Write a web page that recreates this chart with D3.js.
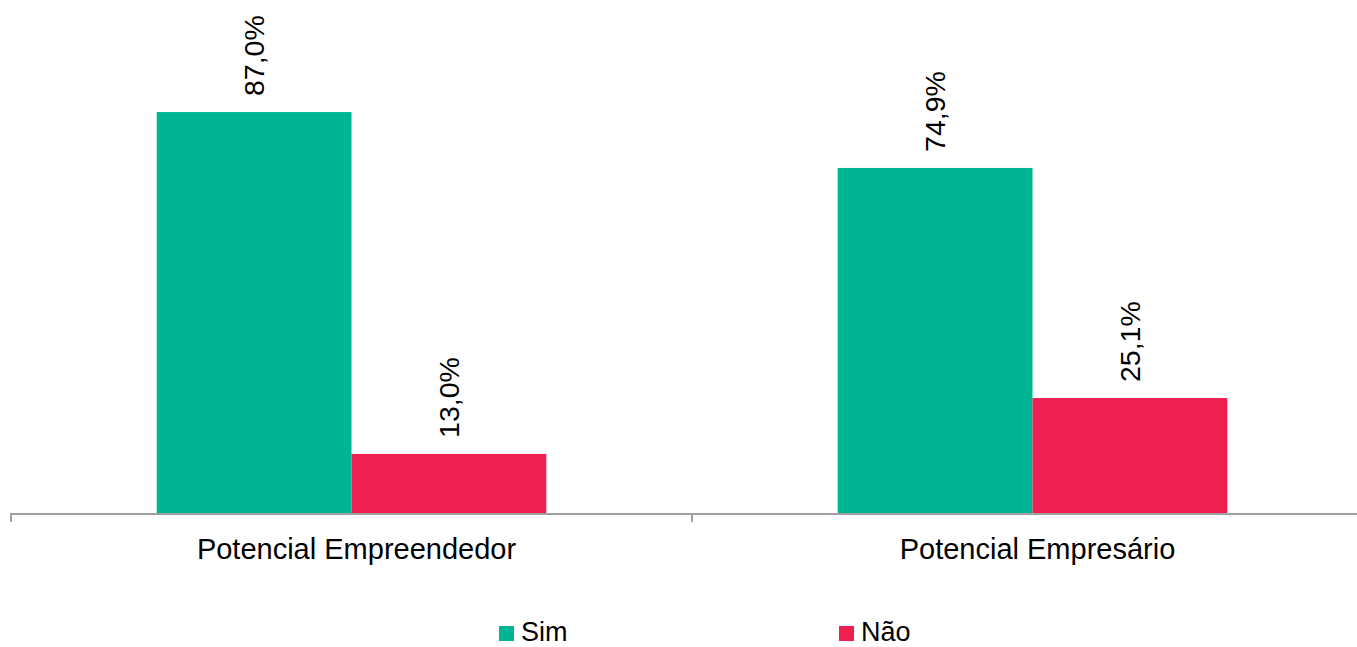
<!DOCTYPE html>
<html>
<head>
<meta charset="utf-8">
<script src="https://cdn.jsdelivr.net/npm/d3@7"></script>
<style>
  html, body { margin: 0; padding: 0; background: #fff; }
  svg { display: block; font-family: "Liberation Sans", Arial, sans-serif; }
</style>
</head>
<body>
<svg id="chart" width="1357" height="647"></svg>
<script>
const categories = ["Potencial Empreendedor", "Potencial Empresário"];
const seriesNames = ["Sim", "Não"];
const simValues = [87.0, 74.9];
const naoValues = [13.0, 25.1];
const seriesColors = ["#00B594", "#EE2052"];

const fmt = v => v.toFixed(1).replace(".", ",") + "%";

const svg = d3.select("#chart");
const baseY = 514;

const x0 = d3.scaleBand().domain(categories).range([10, 1372]).paddingInner(0).paddingOuter(0);
const x1 = d3.scaleBand().domain(seriesNames).range([0, x0.bandwidth()]).paddingInner(0).paddingOuter(0.748);
const y = d3.scaleLinear().domain([0, 100]).range([baseY, 52]);

const data = categories.map((c, i) => ({
  cat: c,
  vals: [{s: "Sim", v: simValues[i]}, {s: "Não", v: naoValues[i]}]
}));

const groups = svg.selectAll("g.grp").data(data).enter().append("g")
  .attr("class", "grp")
  .attr("transform", d => `translate(${x0(d.cat) + 1},0)`);

groups.selectAll("rect").data(d => d.vals).enter().append("rect")
  .attr("x", d => x1(d.s))
  .attr("width", x1.bandwidth())
  .attr("y", d => y(d.v))
  .attr("height", d => baseY - y(d.v))
  .attr("fill", d => seriesColors[seriesNames.indexOf(d.s)]);

groups.selectAll("text.val").data(d => d.vals).enter().append("text")
  .attr("class", "val")
  .attr("transform", d => `translate(${x1(d.s) + x1.bandwidth() / 2 + 10},${y(d.v) - 16}) rotate(-90)`)
  .attr("text-anchor", "start")
  .attr("font-size", 28.5)
  .attr("fill", "#000")
  .text(d => fmt(d.v));

// axis
const axis = d3.axisBottom(x0).tickSize(0).tickPadding(0).tickFormat("");
const gAxis = svg.append("g").attr("transform", `translate(0,${baseY})`).call(axis);
gAxis.select(".domain").remove();
gAxis.append("line").attr("x1", 10).attr("x2", 1372).attr("y1", 0).attr("y2", 0)
  .attr("stroke", "#A0A0A0").attr("stroke-width", 2);
const tickXs = [x0.range()[0], x0(categories[1])];
gAxis.selectAll("line.tk").data(tickXs).enter().append("line")
  .attr("class", "tk")
  .attr("x1", d => d + 1).attr("x2", d => d + 1).attr("y1", 0).attr("y2", 8)
  .attr("stroke", "#A0A0A0").attr("stroke-width", 2);

svg.selectAll("text.cat").data(categories).enter().append("text")
  .attr("class", "cat")
  .attr("x", d => x0(d) + x0.bandwidth() / 2 + 6)
  .attr("y", 559)
  .attr("text-anchor", "middle")
  .attr("font-size", 29)
  .attr("fill", "#000")
  .text(d => d);

// legend
const legendX = [499, 839];
const leg = svg.selectAll("g.leg").data(seriesNames).enter().append("g")
  .attr("class", "leg")
  .attr("transform", (d, i) => `translate(${legendX[i]},626)`);
leg.append("rect").attr("width", 15).attr("height", 15)
  .attr("fill", (d, i) => seriesColors[i]);
leg.append("text").attr("x", 22).attr("y", 15).attr("font-size", 27).attr("fill", "#000")
  .text(d => d);
</script>
</body>
</html>
